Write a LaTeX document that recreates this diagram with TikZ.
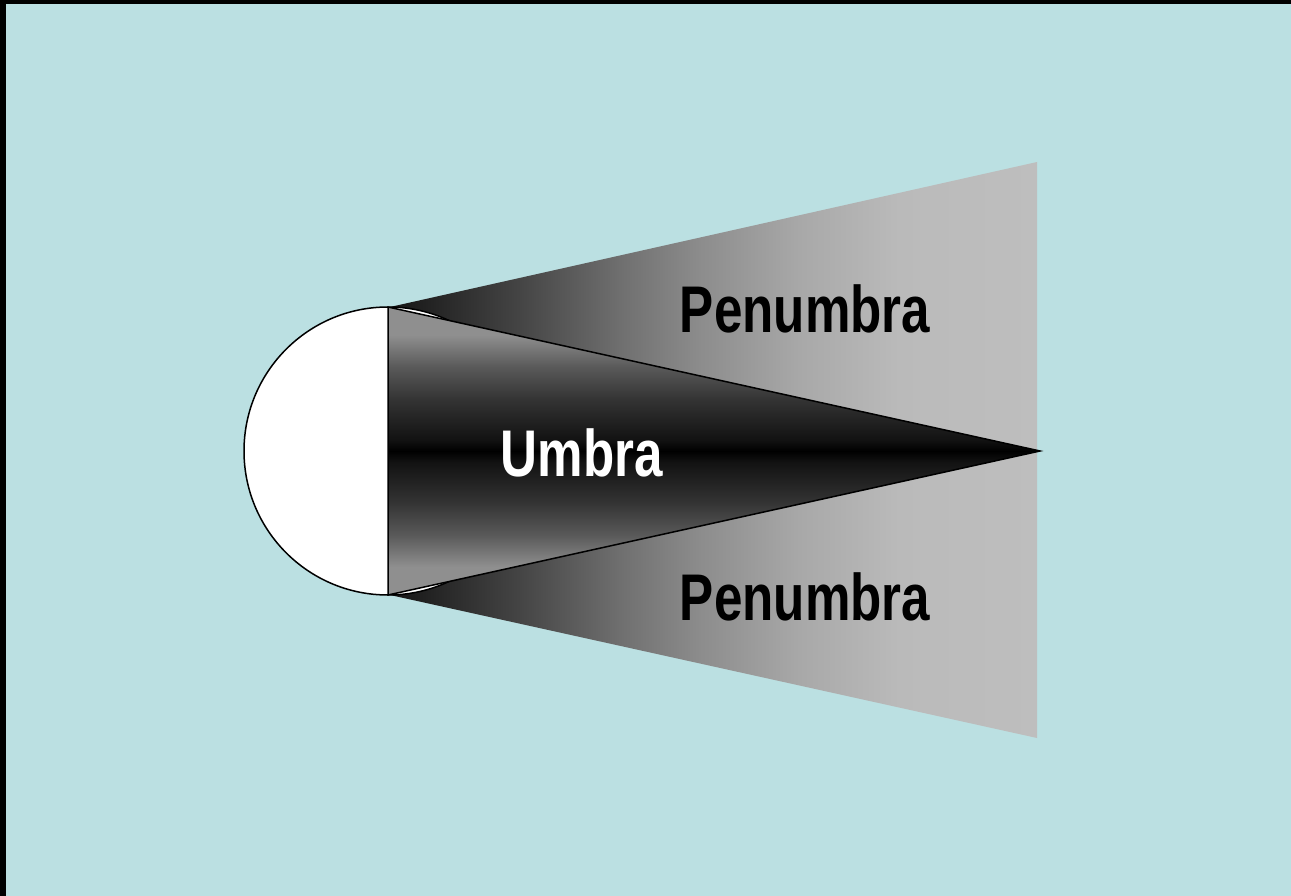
\documentclass[tikz,border=0pt]{standalone}
\usepackage{fontspec}
\usepackage{graphicx}
\setmainfont{Liberation Sans}
\definecolor{sky}{HTML}{BBE0E2}

% penumbra: dark next to the body, fading to light grey
\pgfdeclarehorizontalshading{penshade}{100bp}{%
  rgb(0bp)=(0.08,0.08,0.08);
  rgb(25bp)=(0.08,0.08,0.08);
  rgb(35.05bp)=(0.27,0.27,0.27);
  rgb(43bp)=(0.44,0.44,0.44);
  rgb(48.96bp)=(0.55,0.55,0.55);
  rgb(56.68bp)=(0.66,0.66,0.66);
  rgb(64.41bp)=(0.73,0.73,0.73);
  rgb(75bp)=(0.745,0.745,0.745);
  rgb(100bp)=(0.745,0.745,0.745)}

% umbra: grey at the rim, black along the axis
\pgfdeclareverticalshading{umbshade}{100bp}{%
  rgb(0bp)=(0.56,0.56,0.56);
  rgb(25bp)=(0.56,0.56,0.56);
  rgb(29.9bp)=(0.56,0.56,0.56);
  rgb(35.4bp)=(0.35,0.35,0.35);
  rgb(41.15bp)=(0.2,0.2,0.2);
  rgb(48.1bp)=(0.07,0.07,0.07);
  rgb(50bp)=(0,0,0);
  rgb(51.9bp)=(0.07,0.07,0.07);
  rgb(58.85bp)=(0.2,0.2,0.2);
  rgb(64.6bp)=(0.35,0.35,0.35);
  rgb(70.1bp)=(0.56,0.56,0.56);
  rgb(75bp)=(0.56,0.56,0.56);
  rgb(100bp)=(0.56,0.56,0.56)}

\tikzset{
  label text/.style={inner sep=0pt, anchor=base,
    font=\fontsize{66}{66}\selectfont\bfseries},
  outline/.style={draw=black, line width=1.5pt},
}
\newcommand{\narrow}[1]{\scalebox{0.775}[1]{#1}}

\begin{document}
\begin{tikzpicture}[x=1pt,y=-1pt]
  \useasboundingbox (0,0) rectangle (1291,896);
  \fill[black] (0,0) rectangle (1291,896);
  \fill[sky] (6,4) rectangle (1291,896);

  % penumbra wedge
  \shade[shading=penshade]
    (390,307) -- (1037,162) -- (1037,738) -- (390,595) -- cycle;

  % illuminated body
  \draw[outline, fill=white] (388,451) circle[radius=144];

  % umbra cone
  \shade[shading=umbshade, outline, line join=miter]
    (388,307) -- (1040,451) -- (388,595) -- cycle;

  \node[label text, text=black] (pentop) at (805,332) {\narrow{Penumbra}};
  \node[label text, text=black] (penbot) at (805,620) {\narrow{Penumbra}};
  \node[label text, text=white] (umbra) at (582,476) {\narrow{Umbra}};
\end{tikzpicture}
\end{document}
